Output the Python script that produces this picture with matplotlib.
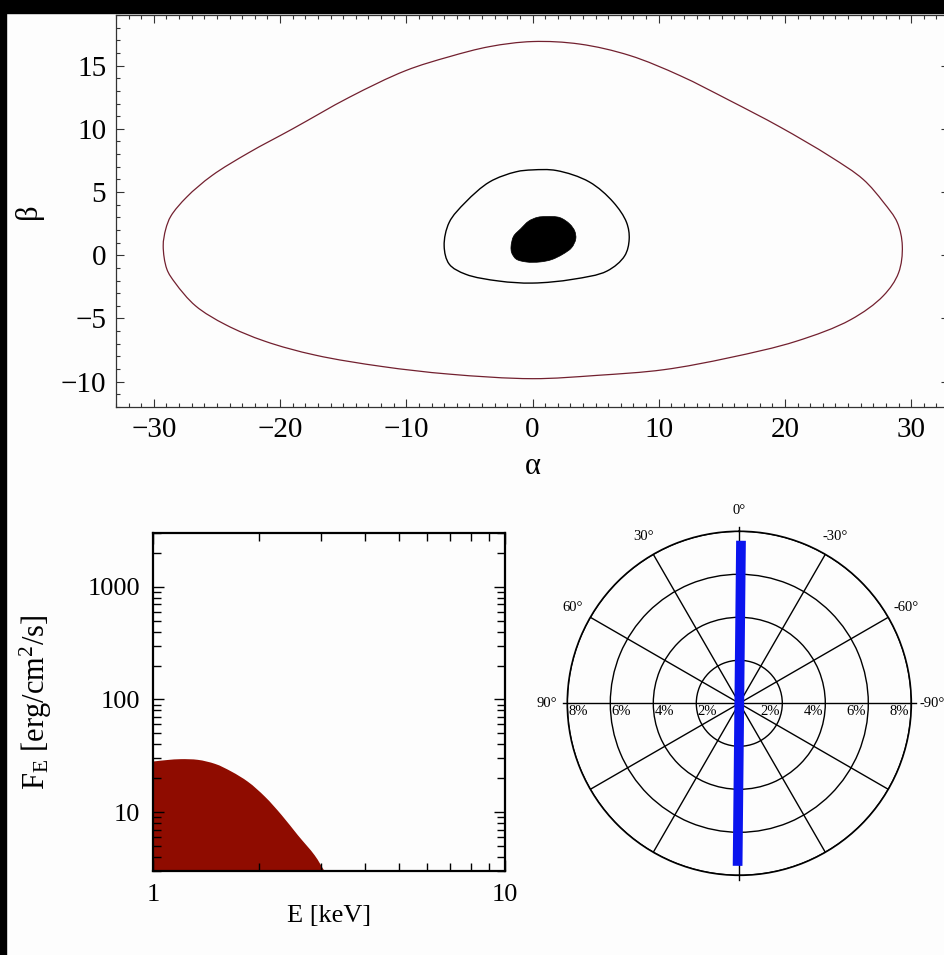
import numpy as np
import matplotlib
matplotlib.use("Agg")
import matplotlib.pyplot as plt
from matplotlib.patches import Rectangle, PathPatch
from matplotlib.path import Path
from matplotlib.ticker import MultipleLocator, LogLocator, NullFormatter
from matplotlib.transforms import offset_copy

plt.rcParams["font.family"] = ["Liberation Serif", "DejaVu Serif"]
plt.rcParams["mathtext.fontset"] = "custom"
plt.rcParams["mathtext.rm"] = "Liberation Serif"
plt.rcParams["mathtext.it"] = "Liberation Serif:italic"

# --- image plane: outer disc edge, inner ring, central shadow (alpha, beta) ---
outer_alpha = [-29.26, -29.06, -28.65, -27.4, -25.4, -22.5, -19.0, -14.5, -10.05, -6.6, -3.4,
               0.0, 3.75, 7.7, 11.7, 15.6, 19.6, 23.6, 26.2, 27.8, 28.9, 29.3, 29.0, 27.8,
               25.2, 20.9, 15.6, 10.4, 5.1, 0.0, -6.6, -11.9, -17.2, -21.2, -24.3, -26.7,
               -28.3, -28.97]
outer_beta = [0.74, 2.06, 3.1, 4.6, 6.3, 8.1, 10.0, 12.5, 14.6, 15.7, 16.5,
              16.9, 16.7, 15.8, 14.2, 12.25, 10.15, 7.8, 6.0, 4.2, 2.6, 0.74, -1.4, -3.2,
              -5.1, -6.8, -8.1, -9.05, -9.5, -9.76, -9.4, -8.8, -7.9, -6.8, -5.5, -4.0,
              -2.2, -1.1]

inner_alpha = [-7.0, -6.6, -5.3, -3.4, -1.3, 0.0, 1.9, 4.5, 6.4, 7.45, 7.66, 7.3, 5.9,
               3.2, 0.0, -2.65, -5.3, -6.6]
inner_beta = [0.74, 2.6, 4.2, 5.8, 6.6, 6.75, 6.7, 5.8, 4.2, 2.6, 1.27, -0.05, -1.25,
              -1.9, -2.2, -2.04, -1.5, -0.7]

shadow_alpha = [-1.7, -1.5, -0.93, -0.3, 0.4, 1.1, 2.16, 2.96, 3.35, 3.43, 3.1, 2.4,
                1.5, 0.6, -0.5, -1.3, -1.65]
shadow_beta = [0.7, 1.5, 2.1, 2.7, 3.0, 3.06, 2.98, 2.46, 1.9, 1.3, 0.6, 0.08,
               -0.35, -0.53, -0.53, -0.3, 0.2]

# --- spectrum ---
energy_kev = [1.0, 1.1, 1.2, 1.34, 1.5, 1.67, 1.86, 2.08, 2.32, 2.58, 2.88, 3.07, 3.12]
flux = [28.1, 29.0, 29.5, 29.1, 26.8, 22.9, 18.6, 13.7, 9.4, 6.23, 4.13, 3.0, 2.8]

# --- polarization ---
pol_angle_deg = -0.6
pol_degree_pct = 7.56
ring_pct = [2, 4, 6, 8]
angle_label_deg = [0, 30, 60, 90, -30, -60, -90]


def smooth_path(x, y, closed=True):
    """Centripetal Catmull-Rom curve through every node, written as cubic Bezier segments."""
    p = np.column_stack([x, y]).astype(float)
    n = len(p)
    if closed:
        pts = np.vstack([p[-1], p, p[0], p[1]])
    else:
        pts = np.vstack([2 * p[0] - p[1], p, 2 * p[-1] - p[-2]])
    segs = n if closed else n - 1
    verts = [p[0]]
    codes = [Path.MOVETO]
    for i in range(segs):
        p0, p1, p2, p3 = pts[i], pts[i + 1], pts[i + 2], pts[i + 3]
        d1 = np.hypot(*(p1 - p0))
        d2 = np.hypot(*(p2 - p1))
        d3 = np.hypot(*(p3 - p2))
        r1, r2, r3 = np.sqrt(d1), np.sqrt(d2), np.sqrt(d3)
        b1 = (d1 * p2 - d2 * p0 + (2 * d1 + 3 * r1 * r2 + d2) * p1) / (3 * r1 * (r1 + r2))
        b2 = (d3 * p1 - d2 * p3 + (2 * d3 + 3 * r3 * r2 + d2) * p2) / (3 * r3 * (r3 + r2))
        verts += [b1, b2, p2]
        codes += [Path.CURVE4] * 3
    if closed:
        verts.append(p[0])
        codes.append(Path.CLOSEPOLY)
    return Path(np.array(verts), codes)


fig = plt.figure(figsize=(9.45, 9.55), dpi=100)
fig.patch.set_facecolor("#fdfdfd")

# top panel: image plane
ax = fig.add_axes([116 / 945, 1 - 407 / 955, 833 / 945, 392 / 955])
ax.set_facecolor("#fdfdfd")
ax.add_patch(PathPatch(smooth_path(outer_alpha, outer_beta), fill=False,
                       edgecolor="#72202f", lw=0.9))
ax.add_patch(PathPatch(smooth_path(inner_alpha, inner_beta), fill=False,
                       edgecolor="black", lw=1.0))
ax.add_patch(PathPatch(smooth_path(shadow_alpha, shadow_beta), facecolor="black",
                       edgecolor="black", lw=0.5))
ax.set_xlim(-33, 33)
ax.set_ylim(-12, 19)
ax.xaxis.set_major_locator(MultipleLocator(10))
ax.xaxis.set_minor_locator(MultipleLocator(1))
ax.yaxis.set_major_locator(MultipleLocator(5))
ax.yaxis.set_minor_locator(MultipleLocator(1))
ax.tick_params(which="both", direction="in", top=True, right=True, width=0.8, color="#333333")
ax.tick_params(which="major", length=6, labelsize=21, pad=7)
ax.tick_params(which="minor", length=3)
for s in ax.spines.values():
    s.set_linewidth(0.9)
    s.set_color("#333333")
ax.set_xlabel("α", fontsize=22)
ax.set_ylabel("β", fontsize=22)
ax.xaxis.set_label_coords(0.5, -0.115)
ax.yaxis.set_label_coords(-0.088, 0.5)

# bottom-left panel: spectrum (edge smoothed in log-log space)
ax2 = fig.add_axes([153 / 945, 1 - 871 / 955, 352 / 945, 338 / 955])
ax2.set_facecolor("#fdfdfd")
edge = smooth_path(np.log10(energy_kev), np.log10(flux), closed=False)
lx, ly = edge.vertices[:, 0], edge.vertices[:, 1]
verts = np.vstack([[lx[0], 0.0], np.column_stack([lx, ly]), [lx[-1], 0.0], [lx[0], 0.0]])
codes = [Path.MOVETO, Path.LINETO] + list(edge.codes[1:]) + [Path.LINETO, Path.CLOSEPOLY]
ax2.add_patch(PathPatch(Path(10 ** verts, codes), facecolor="#8f0c00", lw=0))
ax2.set_xscale("log")
ax2.set_yscale("log")
ax2.set_xlim(1, 10)
ax2.set_ylim(3, 3000)
ax2.set_xticks([1, 10])
ax2.set_xticklabels(["1", "10"])
ax2.set_yticks([10, 100, 1000])
ax2.set_yticklabels(["10", "100", "1000"])
ax2.xaxis.set_minor_locator(LogLocator(base=10, subs=np.arange(2, 10)))
ax2.yaxis.set_minor_locator(LogLocator(base=10, subs=np.arange(2, 10)))
ax2.xaxis.set_minor_formatter(NullFormatter())
ax2.yaxis.set_minor_formatter(NullFormatter())
ax2.tick_params(which="both", direction="in", top=True, right=True, width=1.0)
ax2.tick_params(which="major", length=8, labelsize=19, pad=9)
ax2.tick_params(which="minor", length=5.5)
for s in ax2.spines.values():
    s.set_linewidth(1.6)
ax2.set_xlabel("E [keV]", fontsize=19)
ax2.set_ylabel(r"$\mathrm{F_E}$ [erg/cm$^2$/s]", fontsize=22)
ax2.xaxis.set_label_coords(0.5, -0.1)
ax2.yaxis.set_label_coords(-0.28, 0.5)

# bottom-right panel: polarization degree / angle
ax3 = fig.add_axes([567.3 / 945, 1 - 875.3 / 955, 344 / 945, 344 / 955], projection="polar")
ax3.set_facecolor("#fdfdfd")
ax3.set_theta_zero_location("N")
ax3.set_theta_direction(1)
ax3.set_rlim(0, 8)
ax3.set_thetagrids(np.arange(0, 360, 30), labels=[""] * 12)
ax3.set_rgrids(ring_pct, labels=[""] * len(ring_pct))
ax3.grid(True, color="black", lw=1.0, ls="-")
ax3.spines["polar"].set_linewidth(1.2)
ax3.tick_params(length=0)
for a in [0, 90, 180, 270]:
    ax3.plot([np.deg2rad(a)] * 2, [8.0, 8.22], color="black", lw=1.0, clip_on=False)

pa = np.deg2rad(pol_angle_deg)
ax3.plot([pa, 0, pa + np.pi], [pol_degree_pct, 0, pol_degree_pct],
         color="#0a14ee", lw=7, solid_capstyle="butt", zorder=5)

for a in angle_label_deg:
    ax3.text(np.deg2rad(a), 8.95, f"{a}°", ha="center", va="center", fontsize=10.5,
             clip_on=False)

left_off = offset_copy(ax3.transData, fig=fig, x=11, y=-8, units="dots")
right_off = offset_copy(ax3.transData, fig=fig, x=-12, y=-8, units="dots")
for r in ring_pct:
    ax3.text(np.pi / 2, r, f"{r}%", transform=left_off, ha="center", va="center", fontsize=10.5)
    ax3.text(3 * np.pi / 2, r, f"{r}%", transform=right_off, ha="center", va="center", fontsize=10.5)

# black frame strips along top and left edges
fig.add_artist(Rectangle((0, 1 - 13 / 955), 1, 13 / 955, transform=fig.transFigure,
                         color="black", zorder=10))
fig.add_artist(Rectangle((0, 0), 6 / 945, 1, transform=fig.transFigure,
                         color="black", zorder=10))

fig.savefig("out.png", dpi=100, facecolor=fig.get_facecolor())
